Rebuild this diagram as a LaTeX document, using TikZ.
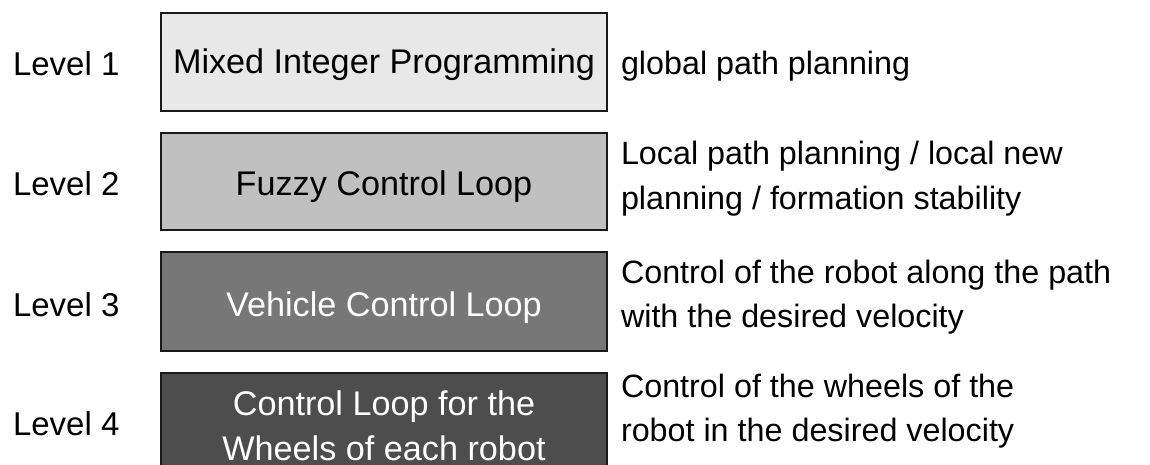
\documentclass[tikz,border=0pt]{standalone}
\usepackage{fontspec}
\setmainfont{Liberation Sans}
\definecolor{fillA}{HTML}{E8E8E8}
\definecolor{fillB}{HTML}{C0C0C0}
\definecolor{fillC}{HTML}{777777}
\definecolor{fillD}{HTML}{4D4D4D}
\definecolor{edgecol}{HTML}{1A1A1A}
\begin{document}
\begin{tikzpicture}[x=1pt,y=-1pt,
  every node/.style={inner sep=0pt, outer sep=0pt, font=\fontsize{33}{44}\selectfont},
  levelbox/.style={draw=edgecol, line width=1.4pt, minimum width=446pt, minimum height=98pt},
  lvl/.style={anchor=base west},
  desc/.style={anchor=base west, align=left, font=\fontsize{32.3}{44}\selectfont},
  boxtext/.style={anchor=base, align=center, font=\fontsize{34.2}{45}\selectfont}]
\useasboundingbox (0,0) rectangle (1150,465);
\clip (0,0) rectangle (1150,465);
% boxes
\node[levelbox, fill=fillA] (b1) at (384,62) {};
\node[levelbox, fill=fillB, minimum height=97pt] (b2) at (384,181.5) {};
\node[levelbox, fill=fillC, minimum height=99pt] (b3) at (384,301.5) {};
\node[levelbox, fill=fillD] (b4) at (384,422) {};
% box texts (base anchor = baseline of last line)
\node[boxtext] (t1) at (384,74) {Mixed Integer Programming};
\node[boxtext] (t2) at (384,195) {Fuzzy Control Loop};
\node[boxtext, text=white] (t3) at (384,316) {Vehicle Control Loop};
\node[boxtext, text=white] (t4) at (384,460) {Control Loop for the\\Wheels of each robot};
% level labels
\node[lvl] (l1) at (13,76) {Level 1};
\node[lvl] (l2) at (13,196) {Level 2};
\node[lvl] (l3) at (13,316) {Level 3};
\node[lvl] (l4) at (13,435) {Level 4};
% descriptions
\node[desc] (d1) at (621,75) {global path planning};
\node[desc] (d2) at (621,209) {Local path planning / local new\\planning / formation stability};
\node[desc] (d3) at (621,327) {Control of the robot along the path\\with the desired velocity};
\node[desc] (d4) at (621,441) {Control of the wheels of the\\robot in the desired velocity};
\end{tikzpicture}
\end{document}
